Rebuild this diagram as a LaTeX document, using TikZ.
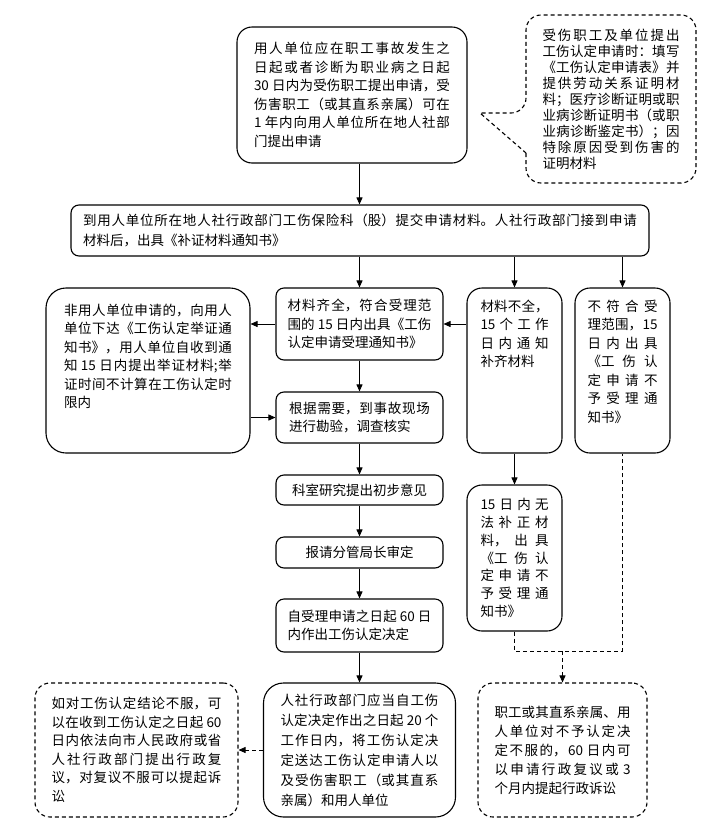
\documentclass[tikz,border=0pt]{standalone}
\usepackage{fontspec}
\setmainfont{Noto Sans CJK SC}
\usetikzlibrary{arrows.meta}
\XeTeXlinebreaklocale "zh"
\XeTeXlinebreakskip=0pt plus 3pt minus 0.4pt
\XeTeXlinebreakpenalty=10000
\newcommand\toptext[3]{\parbox[c][#1pt][t]{#2pt}{#3}}

\begin{document}
\begin{tikzpicture}[x=1pt, y=-1pt,
    every node/.style={
      font=\fontsize{13.5}{18.5}\selectfont,
      inner sep=0pt   % box sizes are set by hand
    },
    stepbox/.style={draw, line width=1.1pt, rounded corners=8, align=justify},
    notebox/.style={stepbox, dash pattern=on 4pt off 3pt},
    arr/.style={-{Triangle[length=7pt,width=6pt]}, line width=0.8pt},
    dashline/.style={line width=0.8pt, dash pattern=on 4pt off 3pt},
    dasharr/.style={dashline, -{Triangle[length=7pt,width=6pt]}}]
  \useasboundingbox (0,0) rectangle (719,836);

  % top: application and required papers
  \node[stepbox, rounded corners=15, minimum width=230, minimum height=136, text width=196] (apply) at (352,95) {用人单位应在职工事故发生之\linebreak 日起或者诊断为职业病之日起\linebreak 30~日内为受伤职工提出申请，受\linebreak 伤害职工（或其直系亲属）可在\linebreak 1~年内向用人单位所在地人社部\linebreak 门提出申请};
  \draw[notebox, rounded corners=15] (526,153) -- (526,183) -- (696,183) -- (696,15) -- (526,15) -- (526,113) [sharp corners] -- (480,113) -- (526,153);
  \node[font=\fontsize{13.5}{16}\selectfont, text width=137, align=justify] (papers) at (611,99) {受伤职工及单位提出\linebreak 工伤认定申请时：填写\linebreak 《工伤认定申请表》并\linebreak 提供劳动关系证明材\linebreak 料；医疗诊断证明或职\linebreak 业病诊断证明书（或职\linebreak 业病诊断鉴定书）；因\linebreak 特除原因受到伤害的\linebreak 证明材料};

  \node[stepbox, minimum width=578, minimum height=51, text width=554, font=\fontsize{13.5}{20}\selectfont] (submit) at (360,230.5) {到用人单位所在地人社行政部门工伤保险科（股）提交申请材料。人社行政部门接到申请\linebreak 材料后，出具《补证材料通知书》};

  % middle row
  \node[stepbox, rounded corners=20, minimum width=204, inner ysep=16] (nonunit) at (148,370.5) {\toptext{133}{168}{非用人单位申请的，向用人\linebreak 单位下达《工伤认定举证通\linebreak 知书》，用人单位自收到通\linebreak 知~15~日内提出举证材料;举\linebreak 证时间不计算在工伤认定时\linebreak 限内}};
  \node[stepbox, minimum width=167, minimum height=72, text width=144] (accept) at (359.5,324) {材料齐全，符合受理范\linebreak 围的~15~日内出具《工伤\linebreak 认定申请受理通知书》};
  \node[stepbox, rounded corners=15, minimum width=95, inner ysep=12] (incomplete) at (514.5,370.5) {\toptext{141}{68}{材料不全，\linebreak 15个工作\linebreak 日内通知\linebreak 补齐材料}};
  \node[stepbox, rounded corners=15, minimum width=95, inner ysep=12] (reject) at (622.5,370.5) {\toptext{141}{70}{不符合受\linebreak 理范围，15\linebreak 日内出具\linebreak 《工伤认\linebreak 定申请不\linebreak 予受理通\linebreak 知书》}};

  % main column
  \node[stepbox, minimum width=167, minimum height=51, text width=141] (survey) at (359.5,417.5) {根据需要，到事故现场\linebreak 进行勘验，调查核实};
  \node[stepbox, minimum width=167, minimum height=30] (study) at (359.5,490) {科室研究提出初步意见};
  \node[stepbox, minimum width=167, minimum height=31] (approve) at (359.5,552.5) {报请分管局长审定};
  \node[stepbox, minimum width=167, minimum height=53, text width=144] (decide) at (359.5,625.5) {自受理申请之日起~60~日\linebreak 内作出工伤认定决定};
  \node[stepbox, rounded corners=15, minimum width=95, minimum height=146, text width=68, font=\fontsize{13.5}{17.8}\selectfont] (nosupply) at (514.5,558) {15日内无\linebreak 法补正材\linebreak 料，出具\linebreak 《工伤认\linebreak 定申请不\linebreak 予受理通\linebreak 知书》};

  % bottom row
  \node[notebox, rounded corners=15, minimum width=203, minimum height=134, text width=170] (review) at (136.5,750) {如对工伤认定结论不服，可\linebreak 以在收到工伤认定之日起~60\linebreak 日内依法向市人民政府或省\linebreak 人社行政部门提出行政复\linebreak 议，对复议不服可以提起诉\linebreak 讼};
  \node[stepbox, rounded corners=20, minimum width=192, minimum height=134, text width=158, font=\fontsize{13.5}{20}\selectfont] (deliver) at (359.5,750) {人社行政部门应当自工伤\linebreak 认定决定作出之日起~20~个\linebreak 工作日内，将工伤认定决\linebreak 定送达工伤认定申请人以\linebreak 及受伤害职工（或其直系\linebreak 亲属）和用人单位};
  \node[notebox, rounded corners=15, minimum width=169, minimum height=134, text width=136, font=\fontsize{13.5}{19}\selectfont] (appeal) at (562.5,750) {职工或其直系亲属、用\linebreak 人单位对不予认定决\linebreak 定不服的，60~日内可\linebreak 以申请行政复议或~3\linebreak 个月内提起行政诉讼};

  \draw[arr] (apply.south -| accept.north) -- (submit.north -| accept.north);
  \draw[arr] (submit.south -| accept.north) -- (accept.north);
  \draw[arr] (submit.south -| incomplete.north) -- (incomplete.north);
  \draw[arr] (submit.south -| reject.north) -- (reject.north);
  \draw[arr] (accept.east -| incomplete.west) -- (accept.east);
  \draw[arr] (accept.west) -- (accept.west -| nonunit.east);
  \draw[arr] (survey.west -| nonunit.east) -- (survey.west);
  \draw[arr] (accept) -- (survey);
  \draw[arr] (survey) -- (study);
  \draw[arr] (study) -- (approve);
  \draw[arr] (approve) -- (decide);
  \draw[arr] (decide) -- (deliver);
  \draw[arr] (incomplete) -- (nosupply);
  \draw[dasharr] (deliver) -- (review);

  \coordinate (merge) at (appeal.north |- 0,651);
  \draw[dashline] (nosupply.south) |- (merge) -| (reject.south);
  \draw[dasharr] (merge) -- (appeal);
\end{tikzpicture}
\end{document}
